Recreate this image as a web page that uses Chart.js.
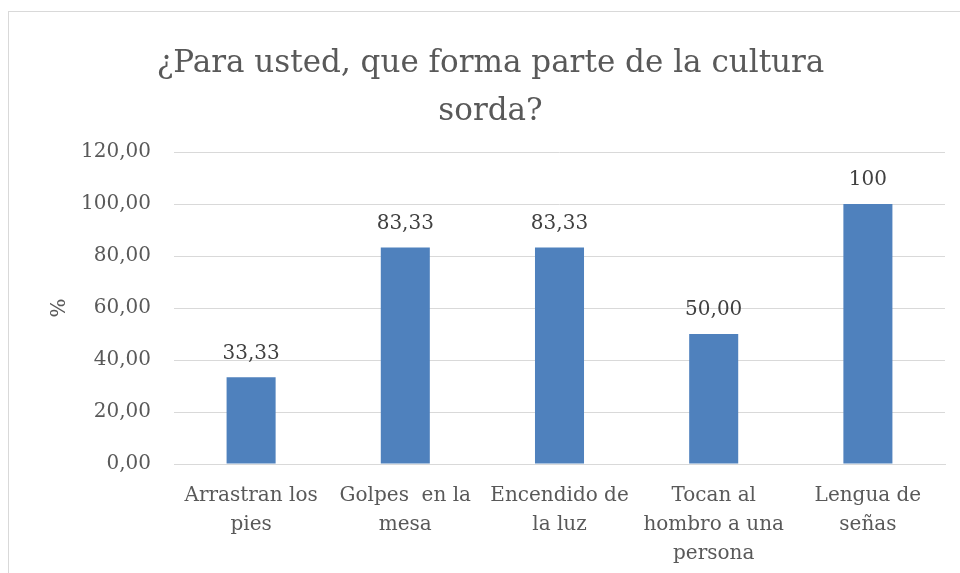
<!DOCTYPE html>
<html>
<head>
<meta charset="utf-8">
<script src="https://cdn.jsdelivr.net/npm/chart.js@4/dist/chart.umd.min.js"></script>
<style>
  html, body { margin: 0; padding: 0; background: #ffffff; }
  #wrap { width: 960px; height: 573px; }
</style>
</head>
<body>
<div id="wrap"><canvas id="c" width="960" height="573"></canvas></div>
<script>
const categories = [
  ["Arrastran los", "pies"],
  ["Golpes  en la", "mesa"],
  ["Encendido de", "la luz"],
  ["Tocan al", "hombro a una", "persona"],
  ["Lengua de", "señas"]
];
const values = [33.33, 83.33, 83.33, 50.00, 100];
const valueLabels = ["33,33", "83,33", "83,33", "50,00", "100"];
const titleLines = ["¿Para usted, que forma parte de la cultura", "sorda?"];
const yAxisTitle = "%";

const FONT = "'DejaVu Serif', 'Liberation Serif', serif";
const TEXT = "#595959";

const frame = {
  id: "frame",
  beforeDraw(chart) {
    const ctx = chart.ctx;
    ctx.save();
    ctx.fillStyle = "#ffffff";
    ctx.fillRect(0, 0, chart.width, chart.height);
    ctx.strokeStyle = "#d9d9d9";
    ctx.lineWidth = 1;
    ctx.strokeRect(8.5, 11.5, 1200, 1200);
    ctx.restore();
  }
};

const valueLabelPlugin = {
  id: "valueLabels",
  afterDatasetsDraw(chart) {
    const ctx = chart.ctx;
    const meta = chart.getDatasetMeta(0);
    ctx.save();
    ctx.font = "20px " + FONT;
    ctx.fillStyle = "#404040";
    ctx.textAlign = "center";
    ctx.textBaseline = "middle";
    meta.data.forEach((bar, i) => {
      ctx.fillText(valueLabels[i], bar.x, bar.y - 24);
    });
    ctx.restore();
  }
};

new Chart(document.getElementById("c"), {
  type: "bar",
  data: {
    labels: categories,
    datasets: [{
      data: values,
      backgroundColor: "#4f81bd",
      borderWidth: 0,
      categoryPercentage: 1,
      barPercentage: 0.318
    }]
  },
  options: {
    responsive: false,
    devicePixelRatio: 1,
    animation: false,
    layout: { padding: { left: 36, right: 15, top: 0, bottom: 0 } },
    plugins: {
      legend: { display: false },
      tooltip: { enabled: false },
      title: {
        display: true,
        text: titleLines,
        color: TEXT,
        font: { family: FONT, size: 31, weight: "normal", lineHeight: 1.55 },
        padding: { top: 40, bottom: 16 }
      }
    },
    scales: {
      x: {
        grid: { display: false, drawTicks: false },
        border: { display: true, color: "#d9d9d9", width: 1 },
        ticks: {
          color: TEXT,
          font: { family: FONT, size: 20, lineHeight: 1.45 },
          padding: 17,
          maxRotation: 0,
          autoSkip: false
        },
        afterFit(scale) { scale.height = 109; }
      },
      y: {
        min: 0,
        max: 120,
        grid: { color: "#d9d9d9", lineWidth: 1, drawTicks: false },
        border: { display: false },
        ticks: {
          stepSize: 20,
          color: TEXT,
          font: { family: FONT, size: 20 },
          padding: 23,
          callback: (v) => v.toFixed(2).replace(".", ",")
        },
        title: {
          display: true,
          text: yAxisTitle,
          color: TEXT,
          font: { family: FONT, size: 20 },
          padding: { top: 12, bottom: 0 }
        },
        afterFit(scale) { scale.width = 138; }
      }
    }
  },
  plugins: [frame, valueLabelPlugin]
});
</script>
</body>
</html>
